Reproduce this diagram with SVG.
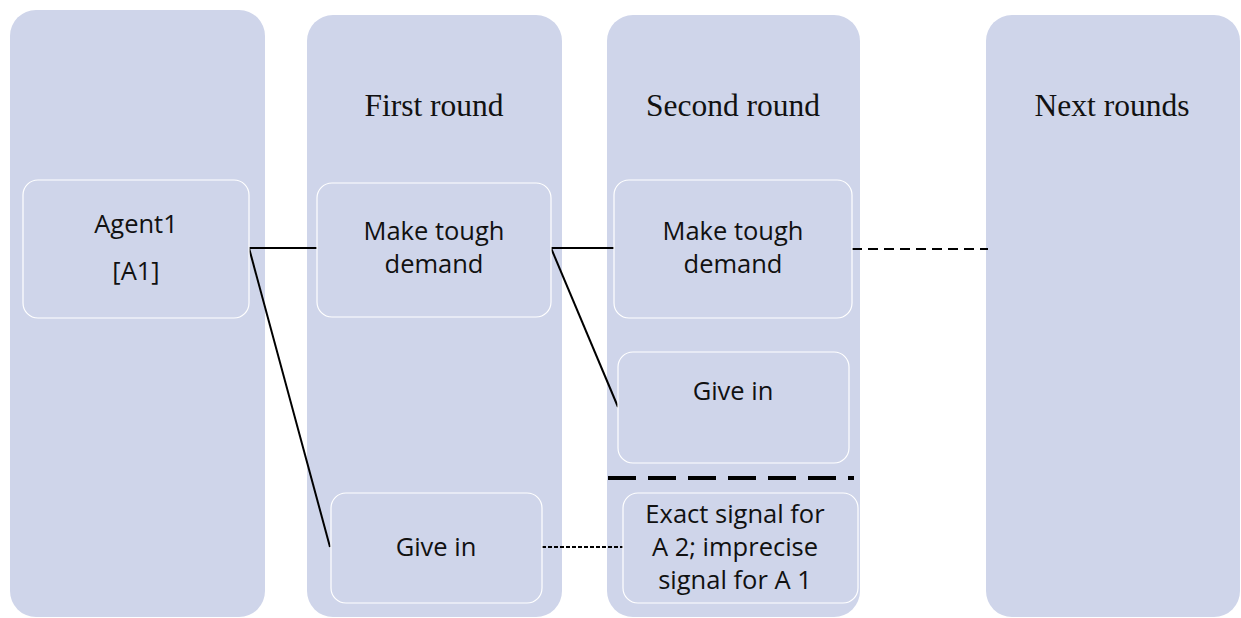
<svg xmlns="http://www.w3.org/2000/svg" width="1241" height="618" viewBox="0 0 1241 618">
  <style>
    .col { fill: #CFD5EA; }
    .box { fill: #CFD5EA; stroke: #FFFFFF; stroke-width: 1.2; }
    .title { font-family: "Liberation Serif", "Times New Roman", serif; font-size: 31.5px; fill: #111111; text-anchor: middle; }
    .lbl { font-family: "Open Sans", "Liberation Sans", sans-serif; font-size: 25.5px; fill: #111111; text-anchor: middle; }
    .solid { stroke: #000000; stroke-width: 2; fill: none; }
    .dash { stroke: #000000; stroke-width: 2; fill: none; stroke-dasharray: 10 6; }
    .dot { stroke: #000000; stroke-width: 2; fill: none; stroke-dasharray: 4 2; }
    .heavy { stroke: #000000; stroke-width: 4; fill: none; stroke-dasharray: 28 12; }
  </style>

  <!-- column backgrounds -->
  <g id="columns">
    <rect id="col-agent" class="col" x="10" y="10" width="255" height="607" rx="26"/>
    <rect id="col-first" class="col" x="307" y="15" width="255" height="602" rx="26"/>
    <rect id="col-second" class="col" x="607" y="15" width="253" height="602" rx="26"/>
    <rect id="col-next" class="col" x="986" y="15" width="254" height="602" rx="26"/>
    <text class="title" x="434" y="116">First round</text>
    <text class="title" x="733" y="116">Second round</text>
    <text class="title" x="1112" y="116">Next rounds</text>
  </g>

  <!-- connectors -->
  <g id="connectors">
    <path class="solid" d="M249 248 H317"/>
    <path class="solid" d="M249 248 L330 547"/>
    <path class="solid" d="M551 248 H614"/>
    <path class="solid" d="M551 248 L618 407"/>
    <path class="dash" d="M852 249 H988"/>
    <path class="dot" d="M542 547 H623"/>
    <path class="heavy" d="M608 478 H854"/>
  </g>

  <g id="agent1">
    <rect class="box" x="23" y="180" width="226" height="138" rx="15"/>
    <text class="lbl" x="136" y="233">Agent1</text>
    <text class="lbl" x="136" y="280">[A1]</text>
  </g>

  <g id="first-tough">
    <rect class="box" x="317" y="183" width="234" height="134" rx="15"/>
    <text class="lbl" x="434" y="240">Make tough</text>
    <text class="lbl" x="434" y="273">demand</text>
  </g>

  <g id="first-givein">
    <rect class="box" x="331" y="493" width="211" height="110" rx="15"/>
    <text class="lbl" x="436" y="556">Give in</text>
  </g>

  <g id="second-tough">
    <rect class="box" x="614" y="180" width="238" height="138" rx="15"/>
    <text class="lbl" x="733" y="240">Make tough</text>
    <text class="lbl" x="733" y="273">demand</text>
  </g>

  <g id="second-givein">
    <rect class="box" x="618" y="352" width="231" height="111" rx="15"/>
    <text class="lbl" x="733" y="400">Give in</text>
  </g>

  <g id="signal">
    <rect class="box" x="623" y="493" width="235" height="110" rx="15"/>
    <text class="lbl" x="735" y="523">Exact signal for</text>
    <text class="lbl" x="735" y="556">A 2; imprecise</text>
    <text class="lbl" x="735" y="589">signal for A 1</text>
  </g>
</svg>
